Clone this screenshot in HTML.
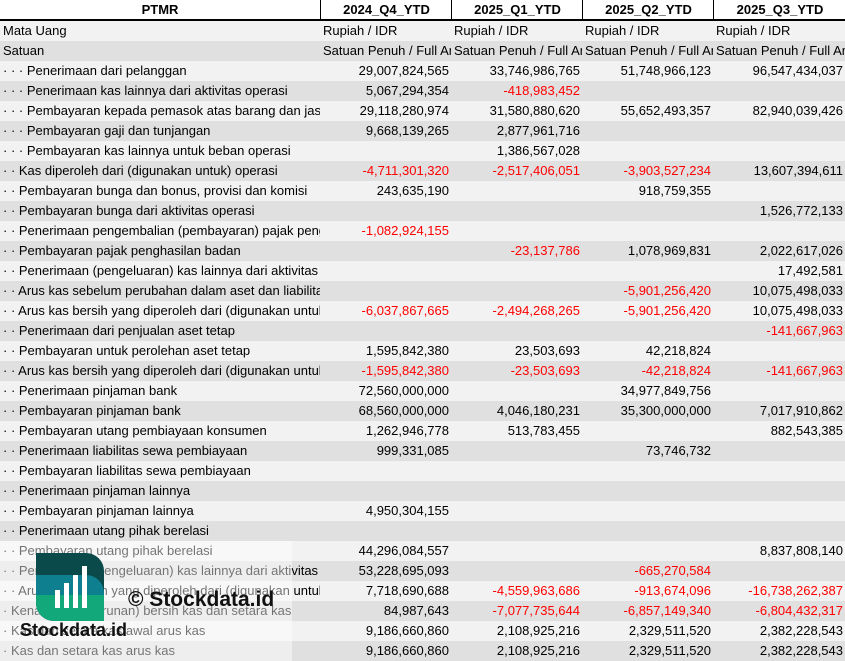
<!DOCTYPE html>
<html><head><meta charset="utf-8"><style>
body{margin:0;width:845px;height:661px;overflow:hidden;background:#fff;font-family:"Liberation Sans",Arial,sans-serif;font-size:13px;color:#000;position:relative}
.r{position:absolute;left:0;width:845px;height:20px;line-height:20px}
.c{position:absolute;top:0;height:20px;overflow:hidden;white-space:nowrap}
.c0{left:3px;width:317px}
.c1{left:320px;width:131px}.c2{left:451px;width:131px}.c3{left:582px;width:131px}.c4{left:713px;width:132px}
.n{text-align:right;box-sizing:border-box;padding-right:2px}
.t{padding-left:3px;box-sizing:border-box}
.h{font-weight:bold;text-align:center}
.neg{color:#f00}
.a{background:#f2f2f2}.b{background:#e0e0e0}
</style></head><body>
<div class="r" style="top:0;height:21px;background:#fff;border-bottom:2px solid #000;box-sizing:border-box">
<div class="c h" style="left:0;width:320px">PTMR</div>
<div class="c h" style="left:320px;width:131px;border-left:1px solid #000">2024_Q4_YTD</div>
<div class="c h" style="left:451px;width:131px;border-left:1px solid #000">2025_Q1_YTD</div>
<div class="c h" style="left:582px;width:131px;border-left:1px solid #000">2025_Q2_YTD</div>
<div class="c h" style="left:713px;width:132px;border-left:1px solid #000">2025_Q3_YTD</div>
</div>
<div id="rows"></div>
<div style="position:absolute;left:0;top:541px;width:292px;height:120px;background:rgba(255,255,255,0.45)"></div>
<svg style="position:absolute;left:36px;top:553px" width="68" height="68" viewBox="0 0 68 68">
<path d="M0 0H50A18 18 0 0 1 68 18V68H18A18 18 0 0 1 0 50Z" fill="#0a4a4a"/>
<path d="M0 22H50A18 18 0 0 1 68 40V68H18A18 18 0 0 1 0 50Z" fill="#0e7f8f"/>
<path d="M0 42H68V68H18A18 18 0 0 1 0 50Z" fill="#13a87a"/>
<rect x="19" y="37" width="5" height="18" fill="#fff"/><rect x="28" y="30" width="5" height="25" fill="#fff"/><rect x="37" y="22" width="5" height="33" fill="#fff"/><rect x="46" y="13" width="5" height="42" fill="#fff"/>
</svg>
<div style="position:absolute;left:128px;top:588px;font-size:21px;font-weight:bold;color:#111">© Stockdata.id</div>
<div style="position:absolute;left:20px;top:620px;font-size:18px;font-weight:bold;color:#111">Stockdata.id</div>
<script>
const D=[
["Mata Uang","Rupiah / IDR","Rupiah / IDR","Rupiah / IDR","Rupiah / IDR","t"],
["Satuan","Satuan Penuh / Full Amount","Satuan Penuh / Full Amount","Satuan Penuh / Full Amount","Satuan Penuh / Full Amount","t"],
["· · · Penerimaan dari pelanggan","29,007,824,565","33,746,986,765","51,748,966,123","96,547,434,037"],
["· · · Penerimaan kas lainnya dari aktivitas operasi","5,067,294,354","-418,983,452","",""],
["· · · Pembayaran kepada pemasok atas barang dan jasa","29,118,280,974","31,580,880,620","55,652,493,357","82,940,039,426"],
["· · · Pembayaran gaji dan tunjangan","9,668,139,265","2,877,961,716","",""],
["· · · Pembayaran kas lainnya untuk beban operasi","","1,386,567,028","",""],
["· · Kas diperoleh dari (digunakan untuk) operasi","-4,711,301,320","-2,517,406,051","-3,903,527,234","13,607,394,611"],
["· · Pembayaran bunga dan bonus, provisi dan komisi","243,635,190","","918,759,355",""],
["· · Pembayaran bunga dari aktivitas operasi","","","","1,526,772,133"],
["· · Penerimaan pengembalian (pembayaran) pajak penghasilan","-1,082,924,155","","",""],
["· · Pembayaran pajak penghasilan badan","","-23,137,786","1,078,969,831","2,022,617,026"],
["· · Penerimaan (pengeluaran) kas lainnya dari aktivitas operasi","","","","17,492,581"],
["· · Arus kas sebelum perubahan dalam aset dan liabilitas yang diperoleh dari (digunakan untuk)","","","-5,901,256,420","10,075,498,033"],
["· · Arus kas bersih yang diperoleh dari (digunakan untuk)","-6,037,867,665","-2,494,268,265","-5,901,256,420","10,075,498,033"],
["· · Penerimaan dari penjualan aset tetap","","","","-141,667,963"],
["· · Pembayaran untuk perolehan aset tetap","1,595,842,380","23,503,693","42,218,824",""],
["· · Arus kas bersih yang diperoleh dari (digunakan untuk)","-1,595,842,380","-23,503,693","-42,218,824","-141,667,963"],
["· · Penerimaan pinjaman bank","72,560,000,000","","34,977,849,756",""],
["· · Pembayaran pinjaman bank","68,560,000,000","4,046,180,231","35,300,000,000","7,017,910,862"],
["· · Pembayaran utang pembiayaan konsumen","1,262,946,778","513,783,455","","882,543,385"],
["· · Penerimaan liabilitas sewa pembiayaan","999,331,085","","73,746,732",""],
["· · Pembayaran liabilitas sewa pembiayaan","","","",""],
["· · Penerimaan pinjaman lainnya","","","",""],
["· · Pembayaran pinjaman lainnya","4,950,304,155","","",""],
["· · Penerimaan utang pihak berelasi","","","",""],
["· · Pembayaran utang pihak berelasi","44,296,084,557","","","8,837,808,140"],
["· · Penerimaan (pengeluaran) kas lainnya dari aktivitas pendanaan","53,228,695,093","","-665,270,584",""],
["· · Arus kas bersih yang diperoleh dari (digunakan untuk)","7,718,690,688","-4,559,963,686","-913,674,096","-16,738,262,387"],
["· Kenaikan (penurunan) bersih kas dan setara kas","84,987,643","-7,077,735,644","-6,857,149,340","-6,804,432,317"],
["· Kas dan setara kas awal arus kas","9,186,660,860","2,108,925,216","2,329,511,520","2,382,228,543"],
["· Kas dan setara kas arus kas","9,186,660,860","2,108,925,216","2,329,511,520","2,382,228,543"]];
let h="";
D.forEach((r,i)=>{
 const bg=i%2==0?"a":"b";
 h+=`<div class="r ${bg}" style="top:${21+i*20}px">`;
 h+=`<div class="c c0">${r[0]}</div>`;
 for(let k=1;k<5;k++){
  const v=r[k];const cls=r[5]?"t":"n";
  h+=`<div class="c c${k} ${cls}${v.startsWith("-")?" neg":""}">${v}</div>`;
 }
 h+="</div>";
});
document.getElementById("rows").innerHTML=h;
</script>
</body></html>
